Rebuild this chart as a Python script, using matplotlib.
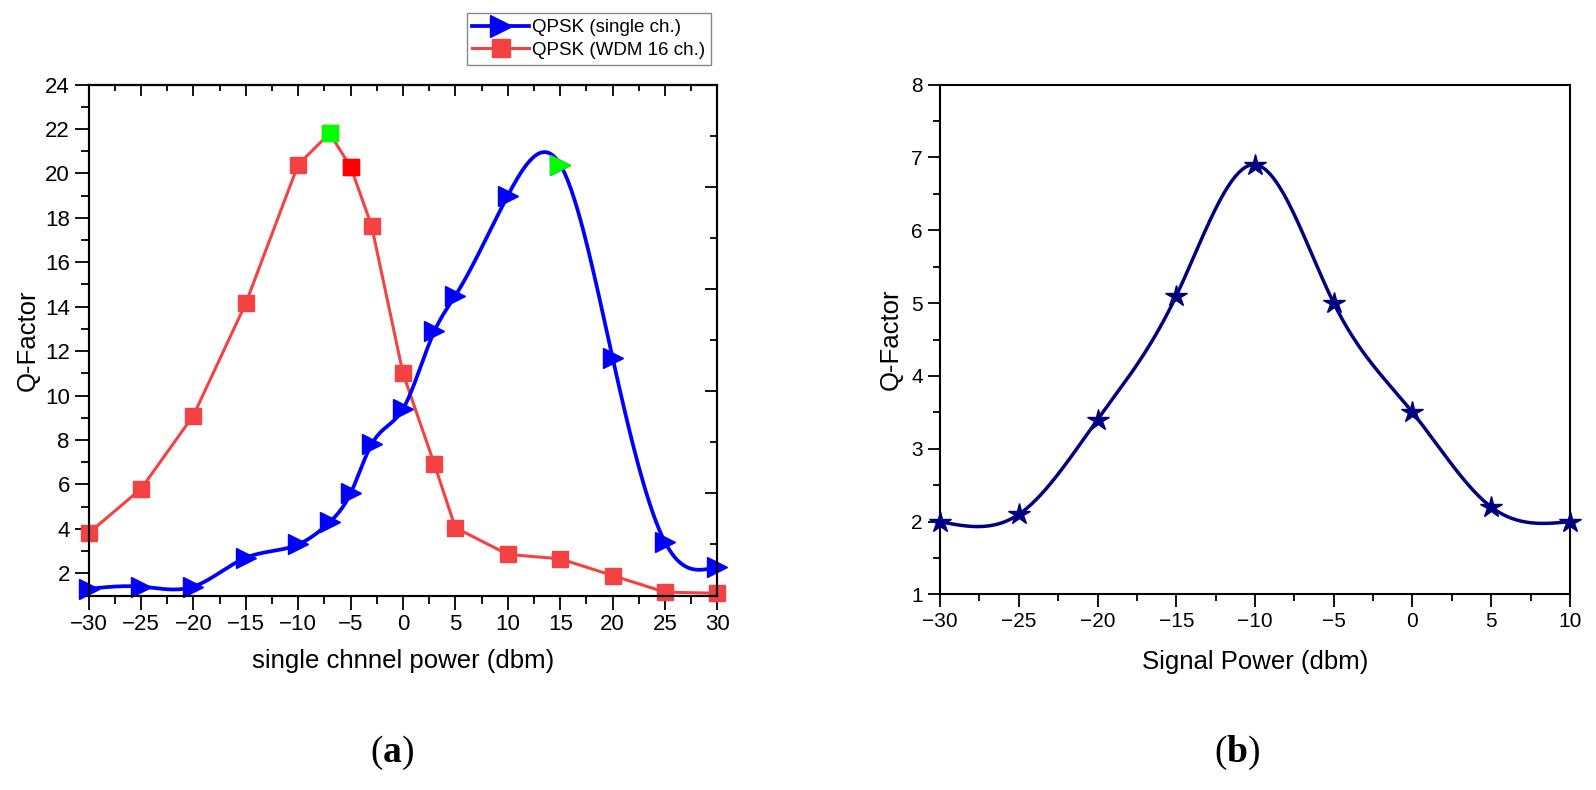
import numpy as np
import matplotlib
matplotlib.use("Agg")
import matplotlib.pyplot as plt
from matplotlib.ticker import MultipleLocator
from matplotlib.lines import Line2D

plt.rcParams["font.family"] = ["Liberation Sans", "DejaVu Sans"]
plt.rcParams["mathtext.fontset"] = "custom"
plt.rcParams["mathtext.rm"] = "Liberation Serif"
plt.rcParams["mathtext.bf"] = "Liberation Serif:bold"

# ── (a) data ────────────────────────────────────────────
power_a = [-30, -25, -20, -15, -10, -7, -5, -3, 0, 3, 5, 10, 15, 20, 25, 30]
q_single = [1.3, 1.4, 1.4, 2.7, 3.3, 4.3, 5.6, 7.8, 9.4, 12.9, 14.5, 19.0, 20.4, 11.7, 3.4, 2.3]
q_wdm = [3.8, 5.8, 9.1, 14.15, 20.4, 21.8, 20.3, 17.65, 11.0, 6.9, 4.05, 2.85, 2.65, 1.9, 1.15, 1.1]

# ── (b) data ────────────────────────────────────────────
power_b = [-30, -25, -20, -15, -10, -5, 0, 5, 10]
q_b = [2.0, 2.1, 3.4, 5.1, 6.9, 5.0, 3.5, 2.2, 2.0]

BLUE = "#0000FF"
RED = "#F44242"
NAVY = "#000080"
GREEN = "#00FF00"
LABEL_FS = 18.5


def natural_spline(x, y, n=400):
    """Natural cubic spline through (x, y), sampled at n points."""
    x = np.asarray(x, float); y = np.asarray(y, float)
    h = np.diff(x)
    k = len(x)
    A = np.zeros((k, k)); r = np.zeros(k)
    A[0, 0] = A[-1, -1] = 1
    for i in range(1, k - 1):
        A[i, i - 1] = h[i - 1]
        A[i, i] = 2 * (h[i - 1] + h[i])
        A[i, i + 1] = h[i]
        r[i] = 6 * ((y[i + 1] - y[i]) / h[i] - (y[i] - y[i - 1]) / h[i - 1])
    m = np.linalg.solve(A, r)
    xs = np.linspace(x[0], x[-1], n)
    idx = np.clip(np.searchsorted(x, xs) - 1, 0, k - 2)
    x0, x1 = x[idx], x[idx + 1]
    y0, y1 = y[idx], y[idx + 1]
    m0, m1 = m[idx], m[idx + 1]
    hh = x1 - x0
    t0 = x1 - xs; t1 = xs - x0
    ys = (m0 * t0**3 + m1 * t1**3) / (6 * hh) + (y0 / hh - m0 * hh / 6) * t0 + (y1 / hh - m1 * hh / 6) * t1
    return xs, ys


fig = plt.figure(figsize=(15.96, 7.9), dpi=100)
ax1 = fig.add_axes([0.0555, 0.2462, 0.394, 0.6468])
ax2 = fig.add_axes([0.589, 0.2475, 0.3947, 0.6455])

# ── panel (a) ───────────────────────────────────────────
xs, ys = natural_spline(power_a, q_single)
ax1.plot(xs, ys, color=BLUE, lw=2.7, zorder=3, clip_on=False)
ax1.plot(power_a, q_single, ">", color=BLUE, ms=14, zorder=4, clip_on=False)
ax1.plot(power_a, q_wdm, "-s", color=RED, lw=2.2, ms=12, zorder=2, clip_on=False)
# highlighted points
i_pk = int(np.argmax(q_single))
ax1.plot(power_a[i_pk], q_single[i_pk], ">", color=GREEN, ms=14, zorder=5)
j_pk = int(np.argmax(q_wdm))
ax1.plot(power_a[j_pk], q_wdm[j_pk], "s", color=GREEN, ms=12, zorder=5)
ax1.plot(power_a[j_pk + 1], q_wdm[j_pk + 1], "s", color="#FF0000", ms=12, zorder=5)

ax1.set_xlim(-30, 30)
ax1.set_ylim(1, 24)
ax1.xaxis.set_major_locator(MultipleLocator(5))
ax1.xaxis.set_minor_locator(MultipleLocator(2.5))
ax1.yaxis.set_minor_locator(MultipleLocator(1))
ax1.set_yticks(range(2, 25, 2))
ax1.tick_params(axis="both", which="major", length=10, width=1.3, labelsize=16, direction="out")
ax1.tick_params(axis="both", which="minor", length=6, width=1.3, direction="out")
ax1.set_xlabel("single chnnel power (dbm)", fontsize=LABEL_FS, labelpad=10)
ax1.set_ylabel("Q-Factor", fontsize=LABEL_FS, labelpad=4)

# top axis: inward ticks, no labels
top = ax1.secondary_xaxis("top")
top.xaxis.set_major_locator(MultipleLocator(5))
top.xaxis.set_minor_locator(MultipleLocator(2.5))
top.tick_params(which="major", direction="in", length=8, width=1.3, labeltop=False)
top.tick_params(which="minor", direction="in", length=4, width=1.3)
top.spines["top"].set_linewidth(1.5)

# right axis: inward ticks on its own scale, no labels
right = ax1.twinx()
right.set_ylim(0, 10)
right.yaxis.set_major_locator(MultipleLocator(2))
right.yaxis.set_minor_locator(MultipleLocator(1))
right.tick_params(which="major", direction="in", length=9, width=1.3, labelright=False)
right.tick_params(which="minor", direction="in", length=5, width=1.3)
for sp in right.spines.values():
    sp.set_linewidth(1.5)
for sp in ax1.spines.values():
    sp.set_linewidth(1.5)

# ── panel (b) ───────────────────────────────────────────
xs, ys = natural_spline(power_b, q_b)
ax2.plot(xs, ys, color=NAVY, lw=2.5, zorder=3, clip_on=False)
ax2.plot(power_b, q_b, "*", color=NAVY, ms=16, zorder=4, clip_on=False)
ax2.set_xlim(-30, 10)
ax2.set_ylim(1, 8)
ax2.xaxis.set_major_locator(MultipleLocator(5))
ax2.xaxis.set_minor_locator(MultipleLocator(2.5))
ax2.yaxis.set_major_locator(MultipleLocator(1))
ax2.yaxis.set_minor_locator(MultipleLocator(0.5))
ax2.tick_params(axis="both", which="major", length=9, width=1.3, labelsize=15, direction="out")
ax2.tick_params(axis="both", which="minor", length=5, width=1.3, direction="out")
ax2.set_xlabel("Signal Power (dbm)", fontsize=LABEL_FS, labelpad=14)
ax2.set_ylabel("Q-Factor", fontsize=LABEL_FS, labelpad=6)
for sp in ax2.spines.values():
    sp.set_linewidth(1.5)

# ── legend ──────────────────────────────────────────────
handles = [
    Line2D([], [], color=BLUE, lw=2.7, marker=">", ms=16),
    Line2D([], [], color=RED, lw=2.2, marker="s", ms=13),
]
leg = fig.legend(handles, ["QPSK (single ch.)", "QPSK (WDM 16 ch.)"],
                 loc="upper left", bbox_to_anchor=(0.2925, 0.983),
                 fontsize=13.5, handlelength=3.0, handletextpad=0.2,
                 borderpad=0.3, labelspacing=0.3, fancybox=False,
                 framealpha=1, edgecolor="#888888", borderaxespad=0)
leg.get_frame().set_linewidth(1.0)

# ── panel letters ───────────────────────────────────────
fig.text(0.2455, 0.047, r"($\mathbf{a}$)", fontsize=27, ha="center", va="center", family="Liberation Serif")
fig.text(0.775, 0.047, r"($\mathbf{b}$)", fontsize=27, ha="center", va="center", family="Liberation Serif")

fig.savefig("out.png", dpi=100)
